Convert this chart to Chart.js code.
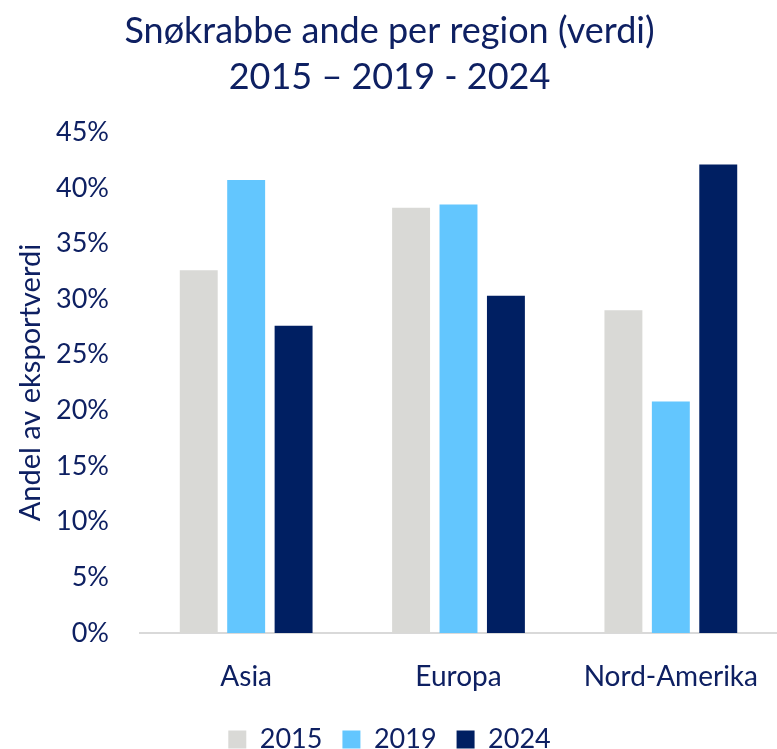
<!DOCTYPE html>
<html>
<head>
<meta charset="utf-8">
<script src="https://cdn.jsdelivr.net/npm/chart.js@4.4.1/dist/chart.umd.min.js"></script>
<style>
  html, body { margin: 0; padding: 0; background: #ffffff; }
  #wrap { width: 777px; height: 749px; }
</style>
</head>
<body>
<div id="wrap"><canvas id="c" width="777" height="749"></canvas></div>
<script>
const categories = ["Asia", "Europa", "Nord-Amerika"];
const seriesNames = ["2015", "2019", "2024"];
const values2015 = [32.6, 38.2, 29.0];
const values2019 = [40.7, 38.5, 20.8];
const values2024 = [27.6, 30.3, 42.1];
const titleLines = ["Snøkrabbe ande per region (verdi)", "2015 – 2019 - 2024"];
const yAxisTitle = "Andel av eksportverdi";

const textColor = "#0e2062";
const fontFamily = "Lato, 'Open Sans', sans-serif";

new Chart(document.getElementById("c"), {
  type: "bar",
  data: {
    labels: categories,
    datasets: [
      { label: seriesNames[0], data: values2015, backgroundColor: "#d9d9d6" },
      { label: seriesNames[1], data: values2019, backgroundColor: "#63c6fe" },
      { label: seriesNames[2], data: values2024, backgroundColor: "#001f62" }
    ]
  },
  options: {
    responsive: false,
    animation: false,
    devicePixelRatio: 1,
    layout: { padding: { left: 0, right: -2, top: 8, bottom: -14 } },
    datasets: { bar: { categoryPercentage: 0.67, barPercentage: 0.8 } },
    plugins: {
      title: {
        display: true,
        text: titleLines,
        color: textColor,
        font: { family: fontFamily, size: 36, weight: "normal", lineHeight: 1.28 },
        padding: { top: 0, bottom: 32 }
      },
      legend: {
        position: "bottom",
        labels: {
          color: textColor,
          font: { family: fontFamily, size: 27 },
          boxWidth: 18,
          boxHeight: 18,
          padding: 20
        }
      },
      tooltip: { enabled: false }
    },
    scales: {
      x: {
        grid: { display: false, drawTicks: false },
        border: { display: true, color: "#d9d9d9", width: 2 },
        ticks: { color: textColor, font: { family: fontFamily, size: 28 }, padding: 27 },
        afterFit: (scale) => { scale.height = 73; scale.paddingLeft = 0; scale.paddingRight = 0; }
      },
      y: {
        min: 0,
        max: 45,
        grid: { display: false, drawTicks: false },
        border: { display: false },
        ticks: {
          stepSize: 5,
          color: textColor,
          font: { family: fontFamily, size: 27 },
          padding: 31,
          callback: (v) => v + "%"
        },
        title: {
          display: true,
          text: yAxisTitle,
          color: textColor,
          font: { family: fontFamily, size: 29 },
          padding: { top: 13, bottom: 0 }
        },
        afterFit: (scale) => { scale.width = 140; }
      }
    }
  }
});
</script>
</body>
</html>
